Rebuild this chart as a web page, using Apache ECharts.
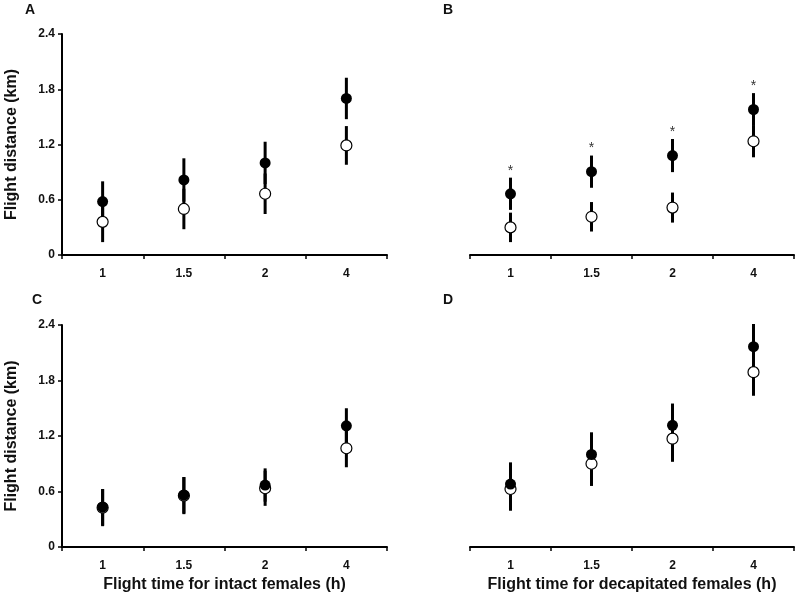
<!DOCTYPE html>
<html>
<head>
<meta charset="utf-8">
<script src="https://cdn.jsdelivr.net/npm/echarts@6/dist/echarts.min.js"></script>
<style>html,body{margin:0;padding:0;background:#fff}#c{width:800px;height:599px}</style>
</head>
<body>
<div id="c"></div>
<script>
// Categories (flight time, h)
var categories = ['1', '1.5', '2', '4'];
var yTicks = [0, 0.6, 1.2, 1.8, 2.4];

// Panel A (intact)
var aFilledMean = [0.58, 0.815, 1.0, 1.70];
var aFilledSE   = [0.22, 0.235, 0.23, 0.225];
var aOpenMean   = [0.36, 0.50, 0.665, 1.19];
var aOpenSE     = [0.22, 0.22, 0.22, 0.21];

// Panel B (decapitated)
var bFilledMean = [0.665, 0.905, 1.08, 1.58];
var bFilledSE   = [0.175, 0.175, 0.18, 0.178];
var bOpenMean   = [0.30, 0.415, 0.515, 1.235];
var bOpenSE     = [0.16, 0.16, 0.163, 0.174];
var bStars      = ['*', '*', '*', '*'];

// Panel C (intact)
var cFilledMean = [0.43, 0.56, 0.67, 1.31];
var cFilledSE   = [0.197, 0.197, 0.18, 0.19];
var cOpenMean   = [0.425, 0.555, 0.635, 1.067];
var cOpenSE     = [0.2, 0.2, 0.19, 0.205];

// Panel D (decapitated)
var dFilledMean = [0.68, 1.0, 1.316, 2.166];
var dFilledSE   = [0.235, 0.24, 0.235, 0.245];
var dOpenMean   = [0.627, 0.90, 1.171, 1.89];
var dOpenSE     = [0.235, 0.24, 0.25, 0.255];

var FONT = '"Liberation Sans", Arial, Helvetica, sans-serif';

var panels = [
  {letter: 'A', fm: aFilledMean, fs: aFilledSE, om: aOpenMean, os: aOpenSE, yaxis: true, xname: '', stars: null,
   grid: {left: 62, width: 325, top: 34, height: 221}},
  {letter: 'B', fm: bFilledMean, fs: bFilledSE, om: bOpenMean, os: bOpenSE, yaxis: false, xname: '', stars: bStars,
   grid: {left: 470, width: 324, top: 34, height: 221}},
  {letter: 'C', fm: cFilledMean, fs: cFilledSE, om: cOpenMean, os: cOpenSE, yaxis: true, xname: 'Flight time for intact females (h)', stars: null,
   grid: {left: 62, width: 325, top: 325, height: 222}},
  {letter: 'D', fm: dFilledMean, fs: dFilledSE, om: dOpenMean, os: dOpenSE, yaxis: false, xname: 'Flight time for decapitated females (h)', stars: null,
   grid: {left: 470, width: 324, top: 325, height: 222}}
];

var grids = [], xAxes = [], yAxes = [], series = [], graphics = [];
var letterPos = {A: [25, 3], B: [443, 3], C: [32, 293], D: [443, 293]};

function errRender(params, api) {
  var p1 = api.coord([api.value(0), api.value(1)]);
  var p2 = api.coord([api.value(0), api.value(2)]);
  return {type: 'line', shape: {x1: p1[0], y1: p1[1], x2: p2[0], y2: p2[1]},
          style: {stroke: '#000', lineWidth: 3}};
}

panels.forEach(function (p, k) {
  grids.push(p.grid);
  xAxes.push({
    type: 'category', gridIndex: k, data: categories, boundaryGap: true,
    axisLine: {show: true, lineStyle: {color: '#000', width: 2}},
    axisTick: {show: true, length: 4, lineStyle: {color: '#000', width: 1.5}},
    axisLabel: {color: '#111', fontFamily: FONT, fontWeight: 'bold', fontSize: 12, margin: 13},
    splitLine: {show: false},
    name: p.xname, nameLocation: 'middle', nameGap: 30,
    nameTextStyle: {color: '#111', fontFamily: FONT, fontWeight: 'bold', fontSize: 16}
  });
  yAxes.push({
    type: 'value', gridIndex: k, min: 0, max: 2.4, interval: 0.6, show: p.yaxis,
    axisLine: {show: true, lineStyle: {color: '#000', width: 2}},
    axisTick: {show: true, length: 4, lineStyle: {color: '#000', width: 1.5}},
    axisLabel: {color: '#111', fontFamily: FONT, fontWeight: 'bold', fontSize: 12, margin: 7,
      formatter: function (v) { return String(Math.round(v * 10) / 10); }},
    splitLine: {show: false},
    name: p.yaxis ? 'Flight distance (km)' : '', nameLocation: 'middle', nameGap: 42,
    nameTextStyle: {color: '#111', fontFamily: FONT, fontWeight: 'bold', fontSize: 16}
  });
  var errData = [];
  for (var i = 0; i < categories.length; i++) {
    errData.push([i, p.om[i] - p.os[i], p.om[i] + p.os[i]]);
    errData.push([i, p.fm[i] - p.fs[i], p.fm[i] + p.fs[i]]);
  }
  series.push({type: 'custom', xAxisIndex: k, yAxisIndex: k, renderItem: errRender,
    data: errData, encode: {x: 0, y: [1, 2]}, z: 1, silent: true});
  series.push({type: 'scatter', xAxisIndex: k, yAxisIndex: k, symbol: 'circle', symbolSize: 11,
    itemStyle: {color: '#fff', borderColor: '#000', borderWidth: 1.2, opacity: 1},
    data: p.om.map(function (v, i) { return [i, v]; }), z: 2, silent: true});
  series.push({type: 'scatter', xAxisIndex: k, yAxisIndex: k, symbol: 'circle', symbolSize: 11,
    itemStyle: {color: '#000', opacity: 1},
    data: p.fm.map(function (v, i) { return [i, v]; }), z: 3, silent: true});
  if (p.stars) {
    var starData = p.fm.map(function (v, i) { return [i, v + p.fs[i], p.stars[i]]; });
    series.push({type: 'custom', xAxisIndex: k, yAxisIndex: k, z: 4, silent: true,
      data: starData, encode: {x: 0, y: 1},
      renderItem: function (params, api) {
        var c = api.coord([api.value(0), api.value(1)]);
        return {type: 'text', x: c[0], y: c[1] - 7,
          style: {text: starData[params.dataIndex][2], textAlign: 'center', textVerticalAlign: 'middle',
            font: 'normal 14px ' + FONT, fill: '#333'}};
      }});
  }
  graphics.push({type: 'text', left: letterPos[p.letter][0], top: letterPos[p.letter][1],
    style: {text: p.letter, font: 'bold 14px ' + FONT, fill: '#111'}});
});

var chart = echarts.init(document.getElementById('c'), null, {renderer: 'canvas'});
chart.setOption({
  animation: false,
  backgroundColor: '#fff',
  grid: grids, xAxis: xAxes, yAxis: yAxes, series: series, graphic: graphics
});
</script>
</body>
</html>
